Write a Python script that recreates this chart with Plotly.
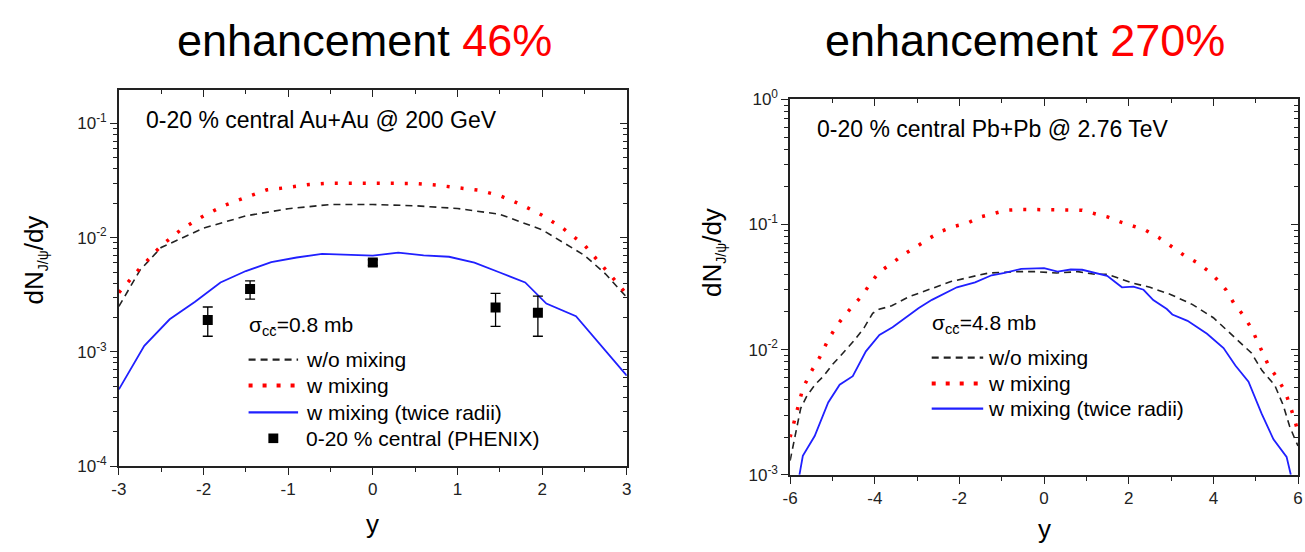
import plotly.graph_objects as go

W, H = 1305, 552


def px(x):
    return x / W


def py(y):
    return 1 - y / H


FONT = "Liberation Sans, Arial, sans-serif"
AX = "#222222"
RED = "#ff0000"
BLUE = "#2020ff"
BLK = "#222222"

# ---------------- Left panel: Au+Au @ 200 GeV ----------------
rhic_wo_x = [-3, -2.75, -2.5, -2.25, -2, -1.5, -1, -0.5, 0, 0.5, 1, 1.5, 2, 2.5, 2.75, 3]
rhic_wo_y = [2.5e-3, 5.2e-3, 8.2e-3, 1.0e-2, 1.21e-2, 1.55e-2, 1.79e-2, 1.95e-2, 1.95e-2,
             1.9e-2, 1.8e-2, 1.6e-2, 1.17e-2, 7.0e-3, 4.8e-3, 3.0e-3]

rhic_w_x = [-3, -2.75, -2.5, -2.25, -2, -1.75, -1.5, -1.25, -1, -0.75, -0.5, 0, 0.5, 0.75,
            1, 1.25, 1.5, 1.75, 2, 2.25, 2.5, 2.75, 3]
rhic_w_y = [3.3e-3, 5.4e-3, 8.5e-3, 1.2e-2, 1.55e-2, 1.92e-2, 2.25e-2, 2.62e-2, 2.75e-2,
            2.92e-2, 3.0e-2, 3.0e-2, 2.98e-2, 2.88e-2, 2.74e-2, 2.6e-2, 2.33e-2, 1.95e-2,
            1.57e-2, 1.2e-2, 8.6e-3, 5.3e-3, 3.2e-3]

rhic_w2_x = [-3, -2.7, -2.4, -2.1, -1.8, -1.5, -1.2, -0.9, -0.6, -0.3, 0, 0.3, 0.6, 0.9,
             1.2, 1.5, 1.8, 2.05, 2.4, 3]
rhic_w2_y = [4.7e-4, 1.13e-3, 1.93e-3, 2.75e-3, 4.05e-3, 5.1e-3, 6.1e-3, 6.7e-3, 7.2e-3,
             7.1e-3, 6.95e-3, 7.4e-3, 7.0e-3, 6.8e-3, 6.05e-3, 4.95e-3, 4.05e-3, 2.65e-3,
             2.05e-3, 6.2e-4]

phenix_x = [-1.95, -1.45, 0.0, 1.45, 1.95]
phenix_y = [1.9e-3, 3.55e-3, 6.05e-3, 2.45e-3, 2.2e-3]
phenix_err_plus = [0.57e-3, 0.63e-3, 0.35e-3, 0.8e-3, 0.87e-3]
phenix_err_minus = [0.53e-3, 0.65e-3, 0.35e-3, 0.78e-3, 0.83e-3]

# ---------------- Right panel: Pb+Pb @ 2.76 TeV ----------------
lhc_wo_x = [-6, -5.9, -5.75, -5.6, -5.4, -5.2, -5.0, -4.75, -4.5, -4.25, -4.05, -3.9, -3.6,
            -3.2, -2.8, -2.2, -1.6, -1.3, -0.6, -0.2, 0.3, 0.8, 1.2, 1.5, 2.1, 2.5, 3.0,
            3.5, 4.0, 4.5, 4.9, 5.15, 5.45, 5.65, 5.8, 5.95, 6]
lhc_wo_y = [1.3e-3, 1.95e-3, 3.4e-3, 4.3e-3, 5.3e-3, 6.2e-3, 7.6e-3, 9.4e-3, 1.17e-2,
            1.5e-2, 1.95e-2, 2.1e-2, 2.24e-2, 2.64e-2, 2.97e-2, 3.5e-2, 3.9e-2, 4.1e-2,
            4.2e-2, 4.2e-2, 4.1e-2, 4.2e-2, 4.0e-2, 4.0e-2, 3.4e-2, 3.15e-2, 2.75e-2,
            2.3e-2, 1.8e-2, 1.25e-2, 9.4e-3, 6.8e-3, 5.2e-3, 3.6e-3, 2.45e-3, 1.85e-3, 1.7e-3]

lhc_w_x = [-6, -5.9, -5.8, -5.7, -5.5, -5.3, -5.1, -4.9, -4.7, -4.5, -4.3, -4.1, -3.9, -3.6,
           -3.3, -3.0, -2.7, -2.4, -2.1, -1.8, -1.5, -1.2, -0.9, -0.5, 0, 0.5, 0.9, 1.2,
           1.5, 1.8, 2.1, 2.4, 2.7, 3.0, 3.3, 3.6, 3.9, 4.1, 4.3, 4.5, 4.7, 4.9, 5.1, 5.3,
           5.5, 5.7, 5.9, 6]
lhc_w_y = [2.0e-3, 2.65e-3, 3.6e-3, 4.9e-3, 6.7e-3, 8.7e-3, 1.2e-2, 1.55e-2, 1.9e-2,
           2.25e-2, 2.7e-2, 3.4e-2, 4.15e-2, 4.9e-2, 5.8e-2, 6.7e-2, 7.8e-2, 8.9e-2,
           9.7e-2, 0.103, 0.115, 0.122, 0.13, 0.132, 0.132, 0.132, 0.13, 0.122, 0.115,
           0.105, 0.097, 0.09, 0.079, 0.067, 0.057, 0.05, 0.042, 0.036, 0.03, 0.023,
           0.019, 0.0148, 0.0105, 7.5e-3, 6.0e-3, 4.6e-3, 2.9e-3, 2.2e-3]

lhc_w2_x = [-5.78, -5.7, -5.42, -5.1, -4.83, -4.52, -4.21, -3.89, -3.58, -3.27, -2.96,
            -2.65, -2.06, -1.63, -1.24, -0.93, -0.54, 0.0, 0.32, 0.63, 0.9, 1.49, 1.84,
            2.11, 2.35, 2.58, 2.9, 3.03, 3.39, 3.85, 4.24, 4.52, 4.83, 5.14, 5.42, 5.73, 5.83]
lhc_w2_y = [1.0e-3, 1.42e-3, 2.04e-3, 3.78e-3, 5.25e-3, 6.14e-3, 9.7e-3, 1.31e-2, 1.51e-2,
            1.8e-2, 2.15e-2, 2.5e-2, 3.15e-2, 3.45e-2, 3.93e-2, 4.1e-2, 4.42e-2, 4.49e-2,
            4.2e-2, 4.37e-2, 4.35e-2, 3.89e-2, 3.15e-2, 3.19e-2, 3.01e-2, 2.49e-2, 2.11e-2,
            1.91e-2, 1.7e-2, 1.34e-2, 1.03e-2, 7.46e-3, 5.54e-3, 3.08e-3, 1.92e-3, 1.39e-3,
            1.0e-3]

# tick labels
L_xtv = [-3, -2, -1, 0, 1, 2, 3]
L_xtt = ["-3", "-2", "-1", "0", "1", "2", "3"]
R_xtv = [-6, -4, -2, 0, 2, 4, 6]
R_xtt = ["-6", "-4", "-2", "0", "2", "4", "6"]
L_tv = [1e-4, 1e-3, 1e-2, 1e-1]
L_tt = ["10<sup>-4</sup>", "10<sup>-3</sup>", "10<sup>-2</sup>", "10<sup>-1</sup>"]
R_tv = [1e-3, 1e-2, 1e-1, 1]
R_tt = ["10<sup>-3</sup>", "10<sup>-2</sup>", "10<sup>-1</sup>", "10<sup>0</sup>"]

titles = [("enhancement ", "46%"), ("enhancement ", "270%")]
legend_labels = ["w/o mixing", "w mixing", "w mixing (twice radii)", "0-20 % central (PHENIX)"]
sigma_labels = ["σ<sub>cc̄</sub>=0.8 mb", "σ<sub>cc̄</sub>=4.8 mb"]
system_labels = ["0-20 % central Au+Au @ 200 GeV", "0-20 % central Pb+Pb @ 2.76 TeV"]

DASH_BLK = "7px,5px"
DASH_RED = "3px,11px"

fig = go.Figure()

# left curves
fig.add_trace(go.Scatter(x=rhic_wo_x, y=rhic_wo_y, mode="lines",
                         line=dict(color=BLK, width=1.6, dash=DASH_BLK), xaxis="x", yaxis="y"))
fig.add_trace(go.Scatter(x=rhic_w_x, y=rhic_w_y, mode="lines",
                         line=dict(color=RED, width=3.5, dash=DASH_RED), xaxis="x", yaxis="y"))
fig.add_trace(go.Scatter(x=rhic_w2_x, y=rhic_w2_y, mode="lines",
                         line=dict(color=BLUE, width=1.8), xaxis="x", yaxis="y"))
fig.add_trace(go.Scatter(x=phenix_x, y=phenix_y, mode="markers",
                         marker=dict(symbol="square", size=10, color="black"),
                         error_y=dict(type="data", symmetric=False, array=phenix_err_plus,
                                      arrayminus=phenix_err_minus, color="black",
                                      thickness=1.3, width=5),
                         xaxis="x", yaxis="y"))
# right curves
fig.add_trace(go.Scatter(x=lhc_wo_x, y=lhc_wo_y, mode="lines",
                         line=dict(color=BLK, width=1.6, dash=DASH_BLK), xaxis="x2", yaxis="y2"))
fig.add_trace(go.Scatter(x=lhc_w_x, y=lhc_w_y, mode="lines",
                         line=dict(color=RED, width=3.5, dash=DASH_RED), xaxis="x2", yaxis="y2"))
fig.add_trace(go.Scatter(x=lhc_w2_x, y=lhc_w2_y, mode="lines",
                         line=dict(color=BLUE, width=1.8), xaxis="x2", yaxis="y2"))
# dummy traces for mirror axes
fig.add_trace(go.Scatter(x=[], y=[], xaxis="x3", yaxis="y3", hoverinfo="skip"))
fig.add_trace(go.Scatter(x=[], y=[], xaxis="x4", yaxis="y4", hoverinfo="skip"))

TICKFONT = dict(family=FONT, size=17, color=AX)


def xa(domain, rng, tv, tt, minor_dtick, main=True, overlay=None, anchor=None):
    d = dict(range=rng, showgrid=False, zeroline=False, showline=True, linecolor=AX,
             linewidth=1.5, tickcolor=AX, tickwidth=1.3, tickmode="array",
             tickvals=tv, ticktext=tt, tickfont=TICKFONT)
    if main:
        d.update(domain=domain, anchor=anchor, ticks="outside", ticklen=7,
                 minor=dict(ticks="outside", ticklen=4, dtick=minor_dtick, tick0=0,
                            tickcolor=AX, tickwidth=1.3))
    else:
        d.update(overlaying=overlay, anchor=anchor, side="top", ticks="inside", ticklen=7,
                 showticklabels=False,
                 minor=dict(ticks="inside", ticklen=4, dtick=minor_dtick, tick0=0,
                            tickcolor=AX, tickwidth=1.3))
    return d


def ya(domain, rng, tickvals, ticktext, main=True, overlay=None, anchor=None):
    d = dict(type="log", range=rng, showgrid=False, zeroline=False, showline=True,
             linecolor=AX, linewidth=1.5, tickcolor=AX, tickwidth=1.3,
             tickmode="array", tickvals=tickvals, ticktext=ticktext, tickfont=TICKFONT)
    if main:
        d.update(domain=domain, anchor=anchor, ticks="outside", ticklen=7,
                 minor=dict(ticks="outside", ticklen=4, dtick="D1", tickcolor=AX, tickwidth=1.3))
    else:
        d.update(overlaying=overlay, anchor=anchor, side="right", ticks="inside", ticklen=7,
                 showticklabels=False,
                 minor=dict(ticks="inside", ticklen=4, dtick="D1", tickcolor=AX, tickwidth=1.3))
    return d


L_xdom = [px(112), px(625)]
L_ydom = [py(473), py(81)]
R_xdom = [px(790), px(1303)]
R_ydom = [py(482), py(91)]

L_yr = [-4, -0.706]
R_yr = [-3, 0]

fig.update_layout(
    width=W, height=H, margin=dict(l=0, r=0, t=0, b=0),
    paper_bgcolor="white", plot_bgcolor="white", showlegend=False,
    font=dict(family=FONT, color="black"),
    xaxis=xa(L_xdom, [-3, 3], L_xtv, L_xtt, 0.5, anchor="y"),
    yaxis=ya(L_ydom, L_yr, L_tv, L_tt, anchor="x"),
    xaxis2=xa(R_xdom, [-6, 6], R_xtv, R_xtt, 1, anchor="y2"),
    yaxis2=ya(R_ydom, R_yr, R_tv, R_tt, anchor="x2"),
    xaxis3=xa(None, [-3, 3], L_xtv, L_xtt, 0.5, main=False, overlay="x", anchor="y3"),
    yaxis3=ya(None, L_yr, L_tv, L_tt, main=False, overlay="y", anchor="x3"),
    xaxis4=xa(None, [-6, 6], R_xtv, R_xtt, 1, main=False, overlay="x2", anchor="y4"),
    yaxis4=ya(None, R_yr, R_tv, R_tt, main=False, overlay="y2", anchor="x4"),
)

ann = []
# big titles
for (t, pct), cx in zip(titles, [360, 1027]):
    ann.append(dict(text=t + "<span style='color:#ff0000'>" + pct + "</span>",
                    x=px(cx), y=py(30), xref="paper", yref="paper", showarrow=False,
                    xanchor="center", yanchor="middle",
                    font=dict(family=FONT, size=45, color="black")))
# system labels
for lab, (lx, ly) in zip(system_labels, [(137, 112), (815, 122)]):
    ann.append(dict(text=lab, x=px(lx), y=py(ly), xref="paper", yref="paper",
                    showarrow=False, xanchor="left", yanchor="middle",
                    font=dict(family=FONT, size=23, color="black")))
# axis titles
for cx, cy in [(27, 258), (712, 250)]:
    ann.append(dict(text="dN<sub><span style='font-size:14px'>J/ψ</span></sub>/dy",
                    x=px(cx), y=py(cy), xref="paper",
                    yref="paper", showarrow=False, textangle=-90, xanchor="center",
                    yanchor="middle", font=dict(family=FONT, size=26, color="black")))
for cx, cy in [(368, 533), (1047, 538)]:
    ann.append(dict(text="y", x=px(cx), y=py(cy), xref="paper", yref="paper",
                    showarrow=False, xanchor="center", yanchor="middle",
                    font=dict(family=FONT, size=26, color="black")))
# sigma labels
for lab, (lx, ly) in zip(sigma_labels, [(241, 327), (931, 325)]):
    ann.append(dict(text=lab, x=px(lx), y=py(ly), xref="paper", yref="paper",
                    showarrow=False, xanchor="left", yanchor="middle",
                    font=dict(family=FONT, size=21, color="black")))

shapes = []
styles = [(BLK, 2.2, DASH_BLK), (RED, 4, "4px,10px"), (BLUE, 2.2, "solid")]
# left legend
L_rows = [362, 389, 417, 444]
R_rows = [360, 387, 413]
for i, lab in enumerate(legend_labels):
    ann.append(dict(text=lab, x=px(299), y=py(L_rows[i]), xref="paper", yref="paper",
                    showarrow=False, xanchor="left", yanchor="middle",
                    font=dict(family=FONT, size=21, color="black")))
    if i < 3:
        c, w, d = styles[i]
        shapes.append(dict(type="line", xref="paper", yref="paper", x0=px(243), x1=px(293),
                           y0=py(L_rows[i]), y1=py(L_rows[i]), line=dict(color=c, width=w, dash=d)))
    else:
        shapes.append(dict(type="rect", xref="paper", yref="paper", x0=px(263), x1=px(273),
                           y0=py(L_rows[i] + 5), y1=py(L_rows[i] - 5),
                           fillcolor="black", line=dict(width=0)))
# right legend
for i, lab in enumerate(legend_labels[:3]):
    ann.append(dict(text=lab, x=px(988), y=py(R_rows[i]), xref="paper", yref="paper",
                    showarrow=False, xanchor="left", yanchor="middle",
                    font=dict(family=FONT, size=21, color="black")))
    c, w, d = styles[i]
    shapes.append(dict(type="line", xref="paper", yref="paper", x0=px(933), x1=px(985),
                       y0=py(R_rows[i]), y1=py(R_rows[i]), line=dict(color=c, width=w, dash=d)))

fig.update_layout(annotations=ann, shapes=shapes)
fig.write_html("out.html")
